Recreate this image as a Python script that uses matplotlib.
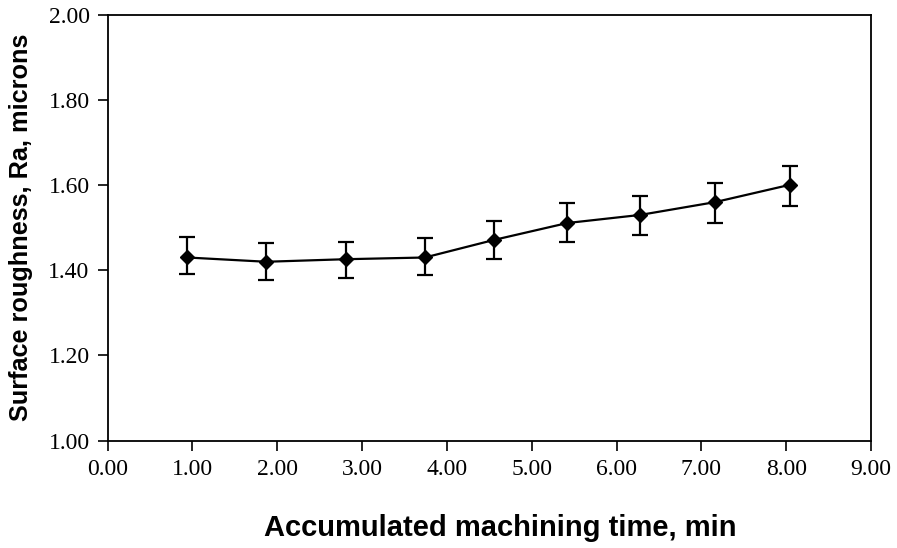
import numpy as np
import matplotlib.pyplot as plt

# machining time (min) and mean Ra (microns) with error bar ends
time_min = [0.94, 1.87, 2.81, 3.74, 4.55, 5.42, 6.28, 7.16, 8.05]
ra_mean  = [1.430, 1.420, 1.426, 1.430, 1.471, 1.511, 1.530, 1.560, 1.601]
ra_upper = [1.477, 1.463, 1.467, 1.475, 1.515, 1.558, 1.574, 1.606, 1.646]
ra_lower = [1.391, 1.376, 1.381, 1.390, 1.426, 1.466, 1.483, 1.511, 1.551]

xticks = np.arange(0, 9.01, 1.0)
yticks = np.arange(1.0, 2.01, 0.2)

mean = np.array(ra_mean)
yerr = [mean - np.array(ra_lower), np.array(ra_upper) - mean]

fig = plt.figure(figsize=(8.97, 5.48), dpi=100)
ax = fig.add_axes([0.120, 0.196, 0.851, 0.777])

ax.errorbar(time_min, ra_mean, yerr=yerr, color="black", lw=1.6,
            marker="D", ms=7.5, capsize=5.5, capthick=1.6, elinewidth=1.6)

ax.set_xlim(0, 9); ax.set_ylim(1.0, 2.0)
ax.set_xticks(xticks); ax.set_yticks(yticks)
ax.set_xticklabels([f"{v:.2f}" for v in xticks], family="Liberation Serif", fontsize=17)
ax.set_yticklabels([f"{v:.2f}" for v in yticks], family="Liberation Serif", fontsize=17)
ax.tick_params(direction="out", length=7, width=1.2, pad=6)
for s in ax.spines.values():
    s.set_linewidth(1.3)

ax.set_xlabel("Accumulated machining time, min", family="Liberation Sans",
              fontweight="bold", fontsize=21)
ax.xaxis.set_label_coords(0.514, -0.172)
ax.set_ylabel("Surface roughness, Ra, microns", family="Liberation Sans",
              fontweight="bold", fontsize=18.2, labelpad=11)

plt.savefig("out.png", dpi=100)
plt.close()
